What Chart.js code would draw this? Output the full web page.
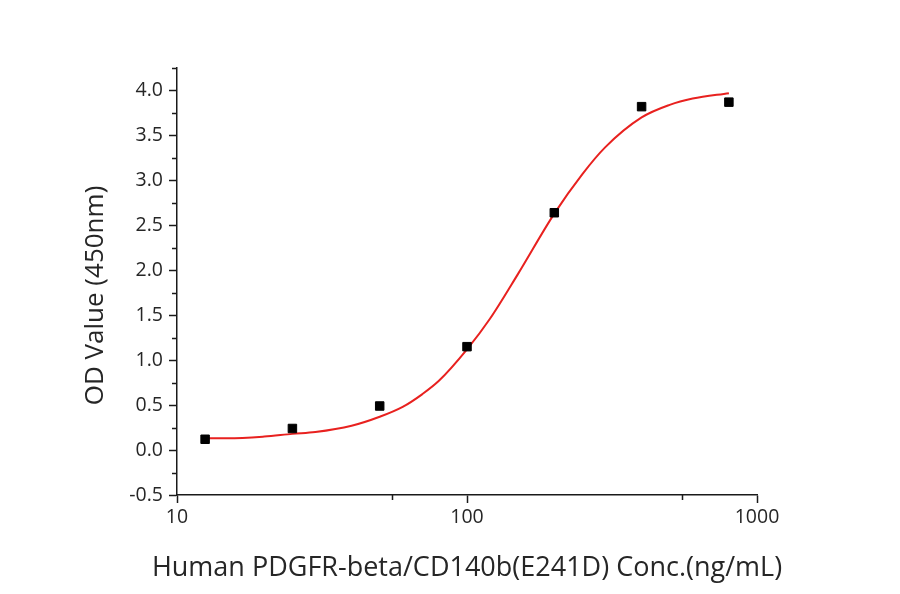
<!DOCTYPE html>
<html>
<head>
<meta charset="utf-8">
<script src="https://cdn.jsdelivr.net/npm/chart.js@4.4.1/dist/chart.umd.min.js"></script>
<style>
  html, body { margin: 0; padding: 0; background: #ffffff; }
  #wrap { width: 900px; height: 594px; }
</style>
</head>
<body>
<div id="wrap"><canvas id="odChart"></canvas></div>
<script>
// measured points
const concentrations = [12.5, 25, 50, 100, 200, 400, 800];
const odValues = [0.12, 0.24, 0.49, 1.15, 2.64, 3.82, 3.87];

// fitted curve
const curveX = [12.5, 15, 20, 25, 30, 40, 50, 60, 70, 80, 100, 120, 150, 200, 250, 300, 400, 500, 600, 800];
const curveY = [0.13, 0.13, 0.15, 0.18, 0.20, 0.27, 0.37, 0.48, 0.62, 0.77, 1.12, 1.46, 1.96, 2.63, 3.07, 3.37, 3.70, 3.84, 3.91, 3.97];

// axis ticks
const xMajorTicks = [10, 100, 1000];
const xMinorTicks = [55, 550];
const yMajorTicks = [-0.5, 0, 0.5, 1.0, 1.5, 2.0, 2.5, 3.0, 3.5, 4.0];
const yMinorTicks = [-0.25, 0.25, 0.75, 1.25, 1.75, 2.25, 2.75, 3.25, 3.75, 4.25];

const xTitle = 'Human PDGFR-beta/CD140b(E241D) Conc.(ng/mL)';
const yTitle = 'OD Value (450nm)';

const axisColor = '#1a1a1a';
const textColor = '#262626';

// short minor ticks, drawn through the scales
const minorTicks = {
  id: 'minorTicks',
  afterDraw(chart) {
    const {ctx, scales: {x, y}} = chart;
    ctx.save();
    ctx.strokeStyle = axisColor;
    ctx.lineWidth = 1.5;
    ctx.beginPath();
    yMinorTicks.forEach(v => {
      const py = Math.round(y.getPixelForValue(v)) + 0.5;
      ctx.moveTo(x.left - 5, py);
      ctx.lineTo(x.left, py);
    });
    xMinorTicks.forEach(v => {
      const px = Math.round(x.getPixelForValue(v)) + 0.5;
      ctx.moveTo(px, y.bottom);
      ctx.lineTo(px, y.bottom + 5);
    });
    ctx.stroke();
    ctx.restore();
  }
};

// axis titles without the scale's maxWidth squeeze
const axisTitles = {
  id: 'axisTitles',
  afterDraw(chart) {
    const {ctx, chartArea} = chart;
    ctx.save();
    ctx.fillStyle = textColor;
    ctx.textAlign = 'center';
    ctx.textBaseline = 'middle';
    ctx.font = '27px "Open Sans"';
    ctx.fillText(xTitle, (chartArea.left + chartArea.right) / 2, 568);
    ctx.font = '26px "Open Sans"';
    ctx.translate(95.5, 295.5);
    ctx.rotate(-Math.PI / 2);
    ctx.fillText(yTitle, 0, 0);
    ctx.restore();
  }
};

new Chart(document.getElementById('odChart'), {
  type: 'scatter',
  data: {
    datasets: [
      {
        label: 'OD',
        data: concentrations.map((c, i) => ({x: c, y: odValues[i]})),
        pointStyle: 'rect',
        pointRadius: 6,
        pointBorderWidth: 1,
        backgroundColor: '#000000',
        borderColor: '#000000',
      },
      {
        label: 'Fit',
        data: curveX.map((c, i) => ({x: c, y: curveY[i]})),
        showLine: true,
        borderColor: '#e8211f',
        borderWidth: 2,
        pointRadius: 0,
        cubicInterpolationMode: 'monotone',
        fill: false,
      },
    ],
  },
  options: {
    responsive: true,
    maintainAspectRatio: false,
    animation: false,
    layout: { padding: { left: 0, right: 143, top: 68, bottom: 0 } },
    plugins: { legend: { display: false }, tooltip: { enabled: false } },
    scales: {
      x: {
        type: 'logarithmic',
        min: 10,
        max: 1000,
        afterBuildTicks: scale => { scale.ticks = xMajorTicks.map(v => ({value: v})); },
        afterFit: scale => { scale.height = 99; },
        ticks: {
          color: textColor,
          padding: 3,
          font: { family: 'Open Sans', size: 19.5 },
          callback: v => String(v),
          maxRotation: 0,
        },
        grid: {
          drawOnChartArea: false,
          tickLength: 8,
          tickWidth: 1.5,
          tickColor: axisColor,
        },
        border: { display: true, color: axisColor, width: 1.5 },
        title: { display: false },
      },
      y: {
        min: -0.5,
        max: 4.25,
        afterBuildTicks: scale => { scale.ticks = yMajorTicks.map(v => ({value: v})); },
        afterFit: scale => { scale.width = 177; },
        ticks: {
          color: textColor,
          padding: 6,
          font: { family: 'Open Sans', size: 19.5 },
          callback: v => Number(v).toFixed(1),
        },
        grid: {
          drawOnChartArea: false,
          tickLength: 8,
          tickWidth: 1.5,
          tickColor: axisColor,
        },
        border: { display: true, color: axisColor, width: 1.5 },
        title: { display: false },
      },
    },
  },
  plugins: [minorTicks, axisTitles],
});
</script>
</body>
</html>
